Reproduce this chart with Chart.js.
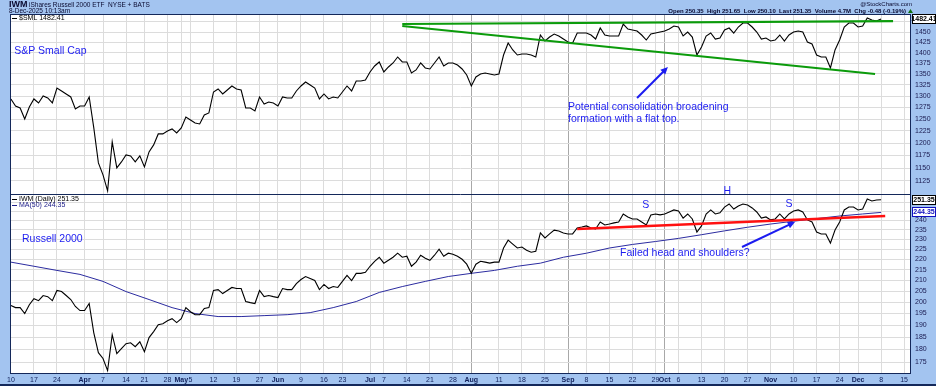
<!DOCTYPE html>
<html>
<head>
<meta charset="utf-8">
<script src="https://cdn.jsdelivr.net/npm/chart.js@4.4.1/dist/chart.umd.min.js"></script>
<style>
  html, body { margin: 0; padding: 0; background: #a3c4f0; }
  #wrap { width: 936px; height: 386px; }
</style>
</head>
<body>
<div id="wrap"><canvas id="chart" width="936" height="386"></canvas></div>
<script>
// daily closes, one per trading day from 10-Mar-2025 to 8-Dec-2025
var smlClose = [
  1293.7, 1278.3, 1274.0, 1250.4, 1276.2, 1293.7, 1284.9, 1300.3, 1295.9, 1284.9,
  1318.1, 1311.4, 1304.7, 1298.1, 1271.8, 1278.3, 1278.3, 1298.1, 1231.4, 1160.2,
  1136.7, 1106.3, 1202.4, 1150.3, 1162.1, 1176.1, 1174.1, 1162.1, 1174.1, 1152.3,
  1182.1, 1196.3, 1218.9, 1218.9, 1225.1, 1229.3, 1221.0, 1231.4, 1254.6, 1248.3,
  1241.9, 1239.8, 1258.9, 1263.2, 1309.2, 1315.9, 1304.7, 1313.6, 1322.6, 1315.9,
  1313.6, 1274.0, 1274.0, 1267.5, 1298.1, 1282.7, 1287.1, 1284.9, 1278.3, 1298.1,
  1295.9, 1295.9, 1311.4, 1322.6, 1331.7, 1324.9, 1318.1, 1293.7, 1304.7, 1293.7,
  1298.1, 1295.9, 1309.2, 1322.6, 1311.4, 1333.9, 1333.9, 1336.2, 1354.6, 1368.5,
  1377.8, 1354.6, 1366.1, 1375.5, 1389.6, 1377.8, 1377.8, 1352.2, 1359.2, 1375.5,
  1363.8, 1361.5, 1375.5, 1389.6, 1368.5, 1375.5, 1375.5, 1370.8, 1361.5, 1347.6,
  1322.6, 1343.1, 1349.9, 1352.2, 1349.9, 1347.6, 1349.9, 1394.3, 1423.1, 1406.3,
  1394.3, 1396.7, 1396.7, 1394.3, 1389.6, 1442.6, 1428.0, 1437.7, 1445.1, 1440.2,
  1432.8, 1425.5, 1423.1, 1447.5, 1447.5, 1447.5, 1442.6, 1432.8, 1459.9, 1442.6,
  1440.2, 1440.2, 1440.2, 1469.9, 1457.4, 1454.9, 1452.5, 1442.6, 1430.4, 1445.1,
  1447.5, 1450.0, 1452.5, 1457.4, 1464.9, 1462.4, 1440.2, 1450.0, 1437.7, 1394.3,
  1413.5, 1440.2, 1447.5, 1432.8, 1435.3, 1454.9, 1459.9, 1447.5, 1462.4, 1472.4,
  1472.4, 1462.4, 1450.0, 1432.8, 1435.3, 1428.0, 1430.4, 1442.6, 1428.0, 1442.6,
  1450.0, 1452.5, 1450.0, 1425.5, 1420.7, 1394.3, 1389.6, 1389.6, 1363.8, 1406.3,
  1430.4, 1462.4, 1472.4, 1472.4, 1462.4, 1464.9, 1485.0, 1479.9, 1477.4, 1482.41
];
var iwmClose = [
  198.5, 197.6, 197.6, 195.0, 198.9, 201.6, 200.7, 203.0, 202.5, 200.7,
  205.3, 204.8, 203.0, 201.2, 198.1, 196.3, 196.3, 199.4, 186.8, 178.7,
  176.4, 171.7, 186.0, 178.3, 180.3, 182.3, 182.7, 181.1, 183.1, 179.1,
  184.8, 187.3, 190.2, 190.6, 191.9, 192.8, 191.1, 192.8, 197.6, 195.8,
  194.5, 194.5, 197.2, 197.6, 205.3, 205.7, 203.9, 205.3, 206.7, 206.2,
  206.2, 200.3, 199.8, 199.4, 205.3, 202.5, 203.0, 202.5, 202.1, 206.2,
  205.7, 205.7, 208.5, 210.4, 211.8, 210.9, 209.9, 205.7, 208.1, 206.2,
  207.1, 206.7, 209.5, 212.3, 209.9, 213.3, 213.3, 213.8, 216.7, 219.1,
  221.1, 218.2, 219.6, 221.1, 223.1, 221.1, 221.6, 216.7, 218.7, 222.1,
  220.6, 219.6, 222.1, 225.1, 221.6, 223.1, 222.6, 221.6, 220.1, 217.7,
  213.3, 217.7, 219.1, 218.7, 218.2, 218.7, 218.7, 225.7, 229.7, 227.7,
  225.7, 226.2, 224.6, 223.6, 224.1, 233.4, 230.8, 232.9, 234.9, 234.4,
  233.4, 232.9, 232.9, 236.0, 236.5, 237.1, 236.0, 235.5, 239.2, 237.6,
  238.1, 238.7, 239.2, 243.5, 241.9, 240.8, 240.8, 239.2, 237.6, 243.0,
  243.5, 243.0, 243.5, 244.6, 245.7, 245.1, 241.3, 243.5, 240.8, 233.9,
  237.1, 243.5, 245.7, 243.5, 244.1, 247.3, 249.0, 246.2, 247.9, 249.0,
  248.4, 246.8, 244.6, 241.3, 241.9, 240.3, 240.8, 243.5, 240.8, 243.5,
  245.1, 245.7, 244.6, 240.3, 239.2, 233.9, 232.9, 232.9, 228.2, 234.9,
  239.2, 245.7, 247.3, 247.3, 245.7, 246.2, 251.8, 250.7, 251.2, 251.35
];
// IWM 50 day moving average, read every 5th trading day
var maDays = [0, 5, 10, 15, 20, 25, 30, 35, 40, 45, 50, 55, 60, 65, 70, 75, 80, 85, 90, 95,
  100, 105, 110, 115, 120, 125, 130, 135, 140, 145, 150, 155, 160, 165, 170, 175, 180, 185, 189];
var maValues = [218.7, 216.7, 214.7, 212.8, 209.5, 204.8, 201.2, 197.6, 195.0, 193.7,
  193.7, 194.1, 194.5, 195.4, 197.6, 200.3, 204.4, 207.1, 209.5, 211.8,
  213.3, 214.7, 216.7, 218.2, 221.1, 223.1, 225.7, 227.5, 229.0, 230.6,
  232.5, 234.5, 236.4, 238.1, 239.6, 241.0, 242.4, 243.5, 244.35];

// date axis: trading day index and its label
var xTickDays = [0, 5, 10, 16, 20, 25, 29, 34, 37, 39, 44, 49, 54, 58, 63, 68, 72, 78, 81, 86, 91, 96,
  100, 106, 111, 116, 121, 125, 130, 135, 140, 142, 145, 150, 155, 160, 165, 170, 175, 180, 184, 189, 194];
var xTickText = ['10', '17', '24', 'Apr', '7', '14', '21', '28', 'May', '5', '12', '19', '27', 'Jun', '9', '16', '23',
  'Jul', '7', '14', '21', '28', 'Aug', '11', '18', '25', 'Sep', '8', '15', '22', '29', 'Oct', '6', '13', '20', '27',
  'Nov', '10', '17', '24', 'Dec', '8', '15'];
var smlTicks = [1125, 1150, 1175, 1200, 1225, 1250, 1275, 1300, 1325, 1350, 1375, 1400, 1425, 1450, 1475];
var iwmTicks = [175, 180, 185, 190, 195, 200, 205, 210, 215, 220, 225, 230, 235, 240, 245, 250];

// hand drawn trend lines, [day, value]
var flatTop = [[85, 1469.9], [191.6, 1477.4]];
var lowerLine = [[85, 1464.9], [187.7, 1349.9]];
var neckLine = [[123, 235.5], [189.9, 242.4]];

var notes = [
  { axis: 'ySml', day: 0.7, value: 1403.9, text: 'S&P Small Cap' },
  { axis: 'ySml', day: 121, value: 1276.2, text: 'Potential consolidation broadening' },
  { axis: 'ySml', day: 121, value: 1250.4, text: 'formation with a flat top.' },
  { axis: 'yIwm', day: 2.4, value: 230.3, text: 'Russell 2000' },
  { axis: 'yIwm', day: 132.3, value: 223.1, text: 'Failed head and shoulders?' },
  { axis: 'yIwm', day: 137.9, value: 248.4, text: 'S', center: true },
  { axis: 'yIwm', day: 155.6, value: 256.3, text: 'H', center: true },
  { axis: 'yIwm', day: 169.0, value: 249.0, text: 'S', center: true }
];
var arrows = [
  { axis: 'ySml', from: [136.0, 1295.9], to: [142.7, 1366.1] },
  { axis: 'yIwm', from: [158.8, 226.2], to: [170.3, 239.2] }
];

var FONT = '"Liberation Sans", Arial, sans-serif';
var NAVY = '#14285a';
var NOTE_BLUE = '#1c1cf0';

function pts(arr) {
  return arr.map(function (p) { return { x: p[0], y: p[1] }; });
}

function drawArrow(ctx, x1, y1, x2, y2) {
  var ang = Math.atan2(y2 - y1, x2 - x1), head = 8;
  ctx.beginPath();
  ctx.moveTo(x1, y1);
  ctx.lineTo(x2 - Math.cos(ang) * head * 0.7, y2 - Math.sin(ang) * head * 0.7);
  ctx.stroke();
  ctx.beginPath();
  ctx.moveTo(x2, y2);
  ctx.lineTo(x2 - head * Math.cos(ang - 0.45), y2 - head * Math.sin(ang - 0.45));
  ctx.lineTo(x2 - head * Math.cos(ang + 0.45), y2 - head * Math.sin(ang + 0.45));
  ctx.closePath();
  ctx.fill();
}

function valueBox(ctx, chart, scale, v, color) {
  var a = chart.chartArea;
  var y = Math.round(scale.getPixelForValue(v));
  ctx.fillStyle = '#ffffff';
  ctx.fillRect(a.right + 1, y - 5, 24, 10);
  ctx.strokeStyle = color;
  ctx.lineWidth = 1;
  ctx.strokeRect(a.right + 1.5, y - 4.5, 23, 9);
  ctx.fillStyle = color;
  ctx.font = 'bold 7px ' + FONT;
  ctx.textAlign = 'center';
  ctx.textBaseline = 'middle';
  ctx.fillText(v.toFixed(2), a.right + 13, y + 0.5);
}

function legendLine(ctx, x, y, color, text) {
  ctx.strokeStyle = color;
  ctx.fillStyle = color;
  ctx.lineWidth = 1;
  ctx.beginPath();
  ctx.moveTo(x, y + 0.5);
  ctx.lineTo(x + 5, y + 0.5);
  ctx.stroke();
  ctx.font = '7px ' + FONT;
  ctx.textAlign = 'left';
  ctx.textBaseline = 'middle';
  ctx.fillText(text, x + 7, y + 0.5);
}

var pagePlugin = {
  id: 'page',
  beforeDraw: function (chart) {
    var ctx = chart.ctx, a = chart.chartArea;
    ctx.save();
    ctx.fillStyle = '#a3c4f0';
    ctx.fillRect(0, 0, chart.width, chart.height);
    ctx.fillStyle = '#ffffff';
    ctx.fillRect(a.left, a.top, a.right - a.left, a.bottom - a.top);
    ctx.fillStyle = NAVY;
    ctx.fillRect(0, chart.height - 2, chart.width, 2);

    // header
    ctx.fillStyle = '#0a0a30';
    ctx.textBaseline = 'middle';
    ctx.textAlign = 'left';
    ctx.font = 'bold 9px ' + FONT;
    ctx.fillText('IWM', 9, 5);
    ctx.font = '6.5px ' + FONT;
    ctx.fillText('iShares Russell 2000 ETF  NYSE + BATS', 29, 5);
    ctx.fillText('8-Dec-2025 10:13am', 9, 11);
    ctx.textAlign = 'right';
    ctx.font = '6px ' + FONT;
    ctx.fillText('@StockCharts.com', 912, 4);
    ctx.font = 'bold 6px ' + FONT;
    ctx.fillText('Open 250.35  High 251.65  Low 250.10  Last 251.35  Volume 4.7M  Chg -0.48 (-0.19%)', 906, 11);
    ctx.fillStyle = '#107010';
    ctx.beginPath();
    ctx.moveTo(908, 13); ctx.lineTo(913, 13); ctx.lineTo(910.5, 9);
    ctx.closePath();
    ctx.fill();
    ctx.restore();
  },
  afterDraw: function (chart) {
    var ctx = chart.ctx, a = chart.chartArea;
    var xs = chart.scales.x, ys = chart.scales.ySml, yi = chart.scales.yIwm;
    var last = smlClose.length - 1;
    ctx.save();

    // frame and panel divider
    ctx.strokeStyle = NAVY;
    ctx.lineWidth = 1;
    ctx.strokeRect(a.left + 0.5, a.top + 0.5, a.right - a.left - 1, a.bottom - a.top - 1);
    ctx.beginPath();
    ctx.moveTo(a.left, Math.round(ys.bottom) + 0.5);
    ctx.lineTo(a.right, Math.round(ys.bottom) + 0.5);
    ctx.stroke();

    // legends
    legendLine(ctx, a.left + 2, ys.top + 4, '#000000', '$SML ' + smlClose[last].toFixed(2));
    legendLine(ctx, a.left + 2, yi.top + 5, '#000000', 'IWM (Daily) ' + iwmClose[last].toFixed(2));
    legendLine(ctx, a.left + 2, yi.top + 11, '#20208a', 'MA(50) ' + maValues[maValues.length - 1].toFixed(2));

    // last value boxes on the price axis
    valueBox(ctx, chart, ys, smlClose[last], '#000000');
    valueBox(ctx, chart, yi, iwmClose[last], '#000000');
    valueBox(ctx, chart, yi, maValues[maValues.length - 1], '#1010c0');

    // notes
    ctx.fillStyle = NOTE_BLUE;
    ctx.font = '10.5px ' + FONT;
    ctx.textBaseline = 'middle';
    notes.forEach(function (n) {
      var sc = chart.scales[n.axis];
      ctx.textAlign = n.center ? 'center' : 'left';
      ctx.fillText(n.text, xs.getPixelForValue(n.day), sc.getPixelForValue(n.value));
    });

    // arrows
    ctx.strokeStyle = NOTE_BLUE;
    ctx.fillStyle = NOTE_BLUE;
    ctx.lineWidth = 2;
    arrows.forEach(function (r) {
      var sc = chart.scales[r.axis];
      drawArrow(ctx,
        xs.getPixelForValue(r.from[0]), sc.getPixelForValue(r.from[1]),
        xs.getPixelForValue(r.to[0]), sc.getPixelForValue(r.to[1]));
    });
    ctx.restore();
  }
};

function logAxis(ticks, min, max) {
  return {
    type: 'logarithmic',
    position: 'right',
    stack: 'panels',
    stackWeight: 1,
    min: min,
    max: max,
    bounds: 'data',
    afterBuildTicks: function (s) { s.ticks = ticks.map(function (v) { return { value: v }; }); },
    afterFit: function (s) { s.width = 25; },
    grid: { color: '#dcdcdc', drawTicks: false, lineWidth: 1 },
    border: { display: false },
    ticks: {
      autoSkip: false,
      padding: 4,
      color: '#1a1a50',
      font: { family: FONT, size: 7 },
      callback: function (v) { return String(v); }
    }
  };
}

var darkDays = [100, 121, 142];

new Chart(document.getElementById('chart'), {
  type: 'line',
  data: {
    datasets: [
      { data: pts(flatTop), yAxisID: 'ySml', borderColor: '#0b9b0b', borderWidth: 2.2 },
      { data: pts(lowerLine), yAxisID: 'ySml', borderColor: '#0b9b0b', borderWidth: 2.2 },
      { data: pts(neckLine), yAxisID: 'yIwm', borderColor: '#ff1010', borderWidth: 2.5 },
      { data: smlClose.map(function (v, i) { return { x: i, y: v }; }), yAxisID: 'ySml', borderColor: '#000000', borderWidth: 1.1 },
      { data: iwmClose.map(function (v, i) { return { x: i, y: v }; }), yAxisID: 'yIwm', borderColor: '#000000', borderWidth: 1.1 },
      { data: maDays.map(function (d, k) { return { x: d, y: maValues[k] }; }), yAxisID: 'yIwm', borderColor: '#2c2ca0', borderWidth: 1 }
    ]
  },
  options: {
    responsive: false,
    devicePixelRatio: 1,
    animation: false,
    events: [],
    layout: { padding: { left: 10, top: 14, right: 0, bottom: 0 } },
    elements: { point: { radius: 0 }, line: { tension: 0, fill: false } },
    plugins: { legend: { display: false }, tooltip: { enabled: false } },
    scales: {
      x: {
        type: 'linear',
        min: -0.2,
        max: 195.5,
        bounds: 'data',
        afterBuildTicks: function (s) { s.ticks = xTickDays.map(function (v) { return { value: v }; }); },
        afterFit: function (s) { s.height = 12; },
        grid: {
          drawTicks: false,
          color: function (c) { return darkDays.indexOf(c.tick && c.tick.value) >= 0 ? '#a8a8a8' : '#dcdcdc'; }
        },
        border: { display: false },
        ticks: {
          autoSkip: false,
          maxRotation: 0,
          minRotation: 0,
          padding: 2,
          color: '#10205a',
          font: function (c) {
            return { family: FONT, size: 7, weight: /[a-z]/i.test(xTickText[c.index]) ? 'bold' : 'normal' };
          },
          callback: function (v, i) { return xTickText[i]; }
        }
      },
      ySml: logAxis(smlTicks, 1100.3, 1495.2),
      yIwm: logAxis(iwmTicks, 170.4, 254.6)
    }
  },
  plugins: [pagePlugin]
});
</script>
</body>
</html>
